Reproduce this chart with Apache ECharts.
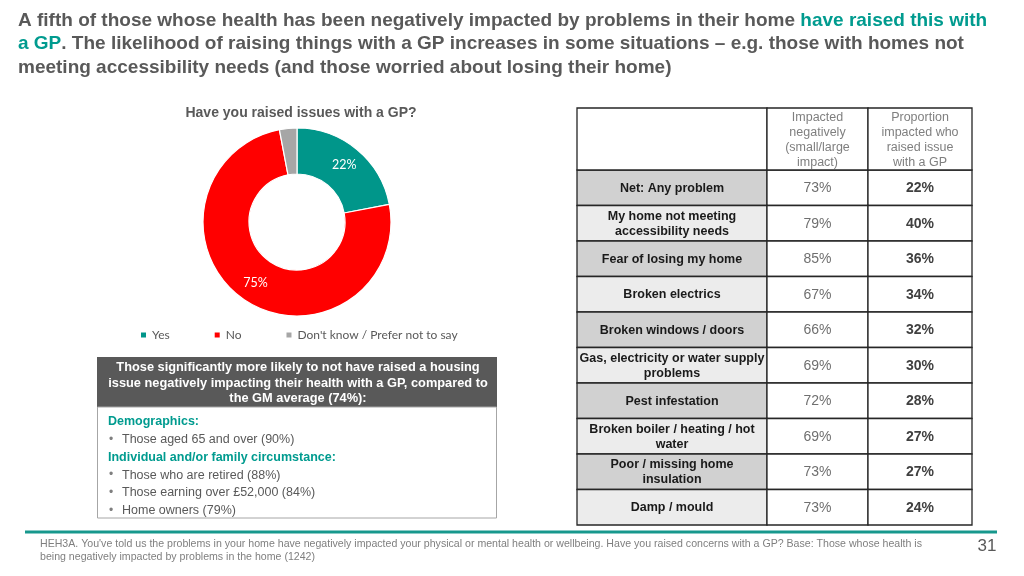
<!DOCTYPE html>
<html><head><meta charset="utf-8">
<script src="https://cdn.jsdelivr.net/npm/echarts@6/dist/echarts.min.js"></script>
<style>html,body{margin:0;padding:0;background:#fff}#c{width:1024px;height:576px}</style>
</head><body><div id="c"></div>
<script>
// ---- data ----
var gpCategories = ['Yes', 'No', "Don't know / Prefer not to say"];
var gpValues = [22, 75, 3];
var gpColors = ['#00968a', '#ff0000', '#a6a6a6'];

var problems = [
  'Net: Any problem',
  'My home not meeting\naccessibility needs',
  'Fear of losing my home',
  'Broken electrics',
  'Broken windows / doors',
  'Gas, electricity or water supply\nproblems',
  'Pest infestation',
  'Broken boiler / heating / hot\nwater',
  'Poor / missing home\ninsulation',
  'Damp / mould'
];
var impactedPct = [73, 79, 85, 67, 66, 69, 72, 69, 73, 73];
var raisedPct = [22, 40, 36, 34, 32, 30, 28, 27, 27, 24];
var tableHeaders = ['Impacted\nnegatively\n(small/large\nimpact)', 'Proportion\nimpacted who\nraised issue\nwith a GP'];

var boxHeader = 'Those significantly more likely to not have raised a housing\nissue negatively impacting their health with a GP, compared to\nthe GM average (74%):';
var boxLines = [
  ['h', 'Demographics:'],
  ['b', 'Those aged 65 and over (90%)'],
  ['h', 'Individual and/or family circumstance:'],
  ['b', 'Those who are retired (88%)'],
  ['b', 'Those earning over £52,000 (84%)'],
  ['b', 'Home owners (79%)']
];

// ---- layout ----
var FONT = '"Liberation Sans", Arial, sans-serif';
var TEAL = '#009b8f';
var GREY = '#595959';
var colEdges = [0, 190, 291, 395]; // table column boundaries (table x units)

var chart = echarts.init(document.getElementById('c'), null, {renderer: 'canvas'});

var graphics = [];
// Title
graphics.push({
  type: 'text', left: 18, top: 9,
  style: {
    text: 'A fifth of those whose health has been negatively impacted by problems in their home {t|have raised this with}\n{t|a GP}. The likelihood of raising things with a GP increases in some situations – e.g. those with homes not\nmeeting accessibility needs (and those worried about losing their home)',
    font: 'bold 19px ' + FONT, fill: GREY, lineHeight: 23.5,
    rich: { t: { fill: TEAL, font: 'bold 19px ' + FONT, lineHeight: 23.5 } }
  }
});
// Box header
graphics.push({ type: 'rect', shape: {x: 97, y: 357, width: 400, height: 50}, style: {fill: '#595959'} });
graphics.push({ type: 'text', x: 298, y: 383, style: {text: boxHeader, font: 'bold 12.8px ' + FONT, fill: '#fff', align: 'center', verticalAlign: 'middle', lineHeight: 15.5} });
graphics.push({ type: 'rect', shape: {x: 97.5, y: 407, width: 399, height: 111}, style: {fill: '#fff', stroke: '#a6a6a6', lineWidth: 1} });
boxLines.forEach(function (l, i) {
  var y = 422 + i * 17.7;
  if (l[0] === 'h') {
    graphics.push({ type: 'text', x: 108, y: y, style: {text: l[1], font: 'bold 12.5px ' + FONT, fill: TEAL, verticalAlign: 'middle'} });
  } else {
    graphics.push({ type: 'text', x: 109, y: y, style: {text: '•', font: '12px ' + FONT, fill: '#7f7f7f', verticalAlign: 'middle'} });
    graphics.push({ type: 'text', x: 122, y: y, style: {text: l[1], font: '12.5px ' + FONT, fill: GREY, verticalAlign: 'middle'} });
  }
});
// Table header
var tx = 577, thTop = 108, thH = 62;
for (var c = 0; c < 3; c++) {
  graphics.push({ type: 'rect', z: 5, shape: {x: tx + colEdges[c], y: thTop, width: colEdges[c + 1] - colEdges[c], height: thH}, style: {fill: '#fff', stroke: '#262626', lineWidth: 1.3} });
}
for (var c2 = 1; c2 < 3; c2++) {
  graphics.push({ type: 'text', z: 6, x: tx + (colEdges[c2] + colEdges[c2 + 1]) / 2, y: thTop + thH / 2 + 1,
    style: {text: tableHeaders[c2 - 1], font: '12.5px ' + FONT, fill: '#7f7f7f', align: 'center', verticalAlign: 'middle', lineHeight: 15.3} });
}
// Footer
graphics.push({ type: 'rect', shape: {x: 25, y: 530.5, width: 972, height: 3}, style: {fill: '#17988d'} });
graphics.push({ type: 'text', x: 40, y: 538, style: {
  text: "HEH3A. You've told us the problems in your home have negatively impacted your physical or mental health or wellbeing. Have you raised concerns with a GP? Base: Those whose health is\nbeing negatively impacted by problems in the home (1242)",
  font: '10.6px "Liberation Sans Narrow", "Arial Narrow", ' + FONT, fill: '#7f7f7f', lineHeight: 13 } });
graphics.push({ type: 'text', x: 987, y: 546, style: {text: '31', font: '17px "Liberation Sans Narrow", ' + FONT, fill: GREY, align: 'center', verticalAlign: 'middle'} });

var tableData = problems.map(function (p, i) { return [0, i, impactedPct[i], raisedPct[i]]; });

chart.setOption({
  animation: false,
  title: {
    text: 'Have you raised issues with a GP?', left: 296, top: 101, textAlign: 'center',
    textStyle: {fontFamily: FONT, fontWeight: 'bold', fontSize: 14, color: GREY}
  },
  legend: {
    data: gpCategories, left: 134, top: 324, itemWidth: 7, itemHeight: 7, itemGap: 43,
    icon: 'rect',
    textStyle: {fontFamily: 'Lato, "Open Sans", sans-serif', fontSize: 12, color: GREY}
  },
  grid: {left: 577, top: 170, width: 395, height: 355, show: false},
  xAxis: {type: 'value', min: 0, max: 395, show: false},
  yAxis: {type: 'category', data: problems, inverse: true, show: false},
  graphic: graphics,
  series: [{
    type: 'pie', center: [297, 222], radius: [48, 94], startAngle: 90, clockwise: true,
    avoidLabelOverlap: false,
    itemStyle: {borderColor: '#fff', borderWidth: 1.2},
    label: {show: true, position: 'inside', fontFamily: 'Lato, "Open Sans", sans-serif', fontSize: 12.5, color: '#fff',
      formatter: function (p) { return p.value >= 10 ? p.value + '%' : ''; }},
    labelLine: {show: false},
    data: gpCategories.map(function (n, i) { return {name: n, value: gpValues[i], itemStyle: {color: gpColors[i]}}; })
  }, {
    type: 'custom', coordinateSystem: 'cartesian2d', encode: {x: 0, y: 1},
    data: tableData,
    renderItem: function (params, api) {
      var i = api.value(1);
      var mid = api.coord([0, i]);
      var h = api.size([0, 1])[1];
      var top = mid[1] - h / 2;
      var xs = colEdges.map(function (e) { return api.coord([e, i])[0]; });
      var fills = [i % 2 === 0 ? '#d1d1d1' : '#ececec', '#fff', '#fff'];
      var texts = [problems[i], api.value(2) + '%', api.value(3) + '%'];
      var fonts = ['bold 12.5px ' + FONT, '14px ' + FONT, 'bold 14px ' + FONT];
      var colors = ['#1a1a1a', '#6f6f6f', '#404040'];
      var children = [];
      for (var c = 0; c < 3; c++) {
        children.push({type: 'rect', shape: {x: xs[c], y: top, width: xs[c + 1] - xs[c], height: h},
          style: {fill: fills[c], stroke: '#262626', lineWidth: 1.3}});
      }
      for (var c3 = 0; c3 < 3; c3++) {
        children.push({type: 'text', x: (xs[c3] + xs[c3 + 1]) / 2, y: mid[1] + 0.5,
          style: {text: texts[c3], font: fonts[c3], fill: colors[c3], align: 'center', verticalAlign: 'middle', lineHeight: 15}});
      }
      return {type: 'group', children: children};
    }
  }]
});
</script></body></html>
